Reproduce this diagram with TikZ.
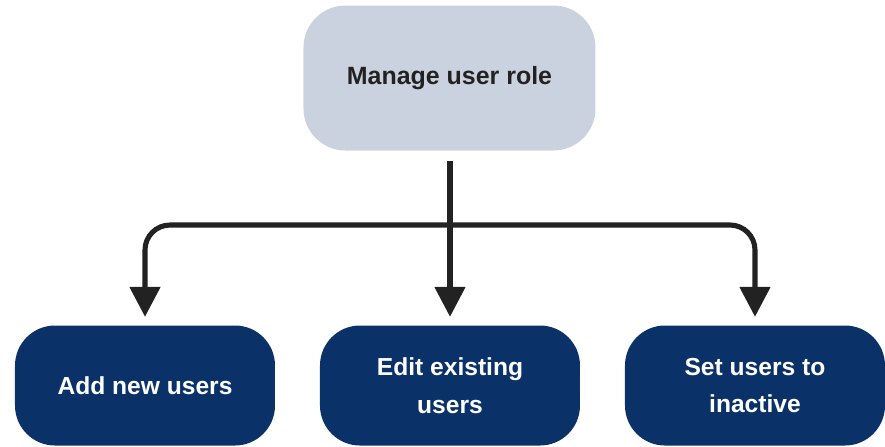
\documentclass[tikz,border=0pt]{standalone}
\usepackage{fontspec}
\setmainfont{Liberation Sans}
\usepackage{xcolor}
\usetikzlibrary{arrows.meta}

\definecolor{rolegray}{HTML}{CBD2DF}
\definecolor{actionblue}{HTML}{0B3268}
\definecolor{inkdark}{HTML}{222222}

\tikzset{
    rolebox/.style={rectangle, rounded corners=0.42cm, fill=rolegray, text=inkdark,
        minimum width=2.92cm, minimum height=1.45cm,
        font=\bfseries\fontsize{7.1}{9}\selectfont},
    actionbox/.style={rectangle, rounded corners=0.4cm, fill=actionblue, text=white,
        minimum width=2.6cm, minimum height=1.2cm, align=center,
        font=\bfseries\fontsize{7}{10.8}\selectfont},
    conn/.style={draw=inkdark, line width=1.45pt, rounded corners=0.25cm,
        -{Triangle[width=0.3cm, length=0.3cm]}, shorten >=0.08cm},
}

\begin{document}
\begin{tikzpicture}
    \useasboundingbox (0, 0) rectangle (8.85, -4.46);

    \node[rolebox] (role) at (4.495, -0.78) {Manage user role};

    \node[actionbox] (addusers) at (1.45, -3.855) {Add new users};
    \node[actionbox] (editusers) at (4.50, -3.855) {Edit existing\\users};
    \node[actionbox] (inactive) at (7.55, -3.855) {Set users to\\inactive};

    \coordinate (split) at (4.50, -2.25);

    \draw[conn, shorten <=0.1cm] (role.south -| editusers.north) -- (editusers.north);
    \draw[conn] (split) -| (addusers.north);
    \draw[conn] (split) -| (inactive.north);
\end{tikzpicture}
\end{document}
